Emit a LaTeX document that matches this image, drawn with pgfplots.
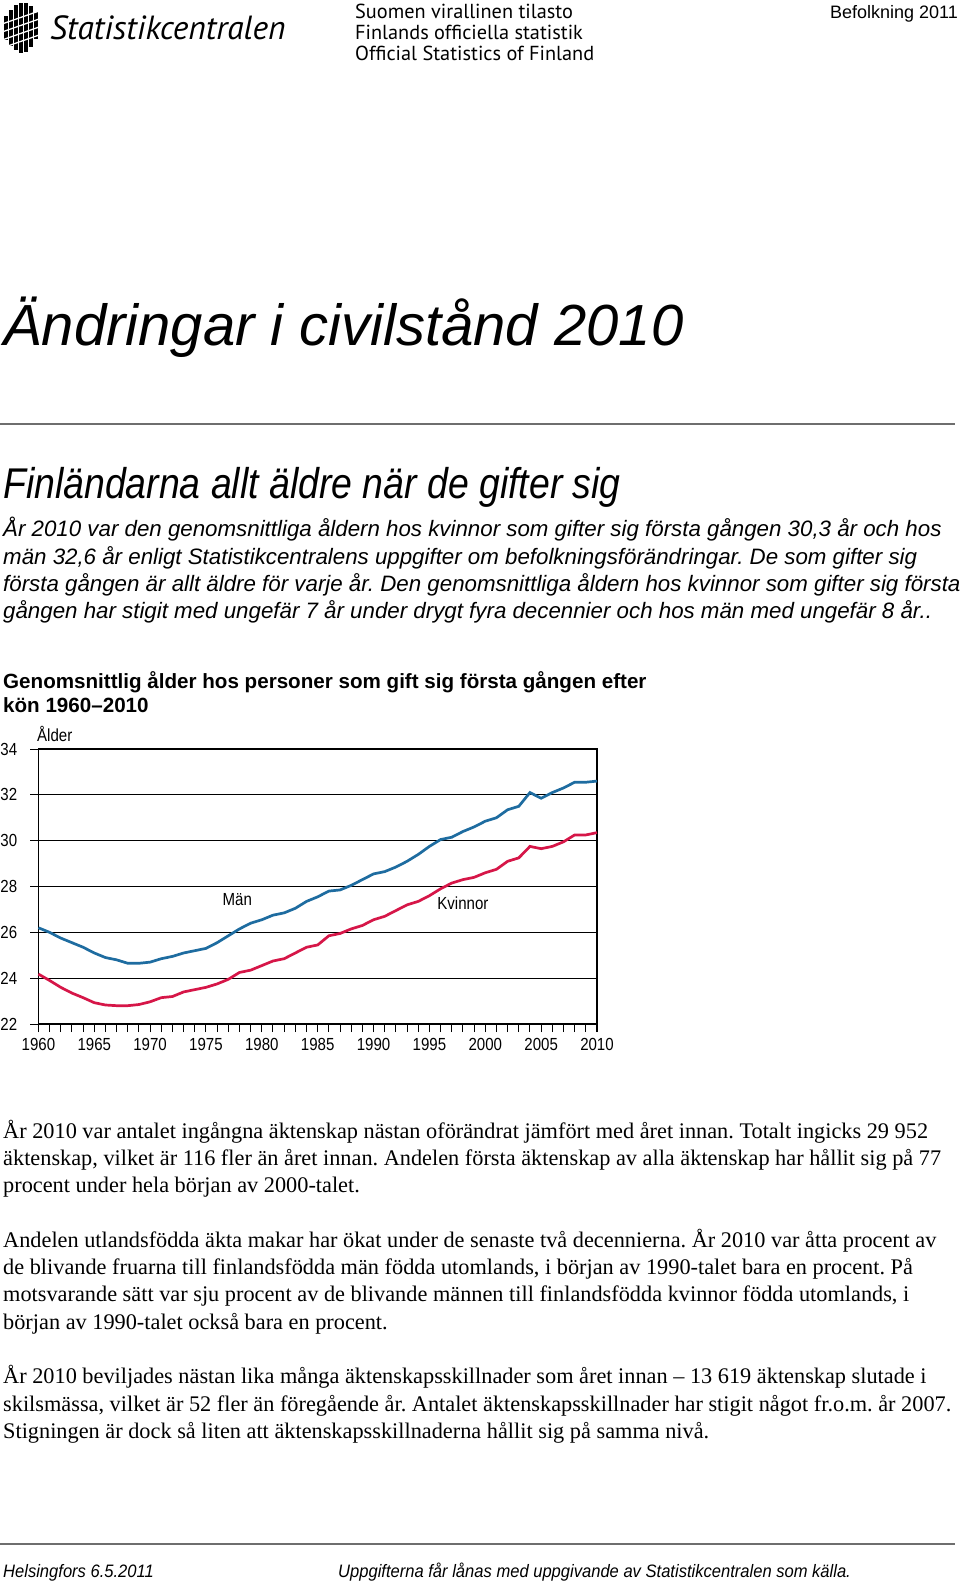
\documentclass[border=0pt]{standalone}
\usepackage{pgfplots}
\pgfplotsset{compat=1.18}
\usepackage{fontspec}
\setmainfont{Liberation Sans}
\newfontfamily\arialN[FakeStretch=0.86]{Liberation Sans}
\newfontfamily\arialM[FakeStretch=0.87]{Liberation Sans}
\newfontfamily\arialF[FakeStretch=0.92]{Liberation Sans}
\newfontfamily\timesf{Liberation Serif}
\newfontfamily\ptsans{PT Sans}
\newcommand\fs[1]{\fontsize{#1}{#1}\selectfont}
\definecolor{manblue}{RGB}{30,108,160}
\definecolor{kvred}{RGB}{214,22,72}
\definecolor{rulegray}{RGB}{110,110,110}

\pgfplotstableread{
year man kv
1960 26.2 24.18
1961 26.0 23.9
1962 25.75 23.6
1963 25.55 23.35
1964 25.35 23.15
1965 25.1 22.93
1966 24.9 22.83
1967 24.8 22.8
1968 24.65 22.8
1969 24.65 22.85
1970 24.7 22.97
1971 24.85 23.15
1972 24.95 23.2
1973 25.1 23.4
1974 25.2 23.5
1975 25.3 23.6
1976 25.55 23.75
1977 25.85 23.95
1978 26.15 24.25
1979 26.4 24.35
1980 26.55 24.55
1981 26.75 24.75
1982 26.85 24.85
1983 27.05 25.1
1984 27.35 25.35
1985 27.55 25.45
1986 27.8 25.85
1987 27.85 25.95
1988 28.05 26.15
1989 28.3 26.3
1990 28.55 26.55
1991 28.65 26.7
1992 28.85 26.95
1993 29.1 27.2
1994 29.4 27.35
1995 29.75 27.6
1996 30.05 27.9
1997 30.15 28.15
1998 30.4 28.3
1999 30.6 28.4
2000 30.85 28.6
2001 31.0 28.75
2002 31.35 29.1
2003 31.5 29.25
2004 32.1 29.75
2005 31.85 29.65
2006 32.1 29.75
2007 32.3 29.95
2008 32.55 30.25
2009 32.55 30.25
2010 32.6 30.35
}\agedata

\begin{document}
\frenchspacing
\begin{tikzpicture}
\useasboundingbox (0pt,0pt) rectangle (960pt,-1585pt);
\fill[white] (0pt,0pt) rectangle (960pt,-1585pt);

% ---- logo
\foreach \bx/\bt/\bb in {4/16/40, 9/10/46, 14/5/50, 19/3/53, 24/3/52, 29/6/47, 34/12/39}{
  \fill[black] ({\bx pt},{-\bt pt}) rectangle ({\bx pt+3.6pt},{-\bb pt});
}
\foreach \dy in {14,22,30,38}{
  \draw[white, line width=1.3pt] (2pt,{-\dy pt-10pt}) -- (42pt,{-\dy pt+4pt});
}
\node[anchor=base west, inner sep=0pt, font=\ptsans\itshape\fs{33.5}] at (50pt,-39pt) {Statistikcentralen};
\node[anchor=base west, inner sep=0pt, font=\ptsans\fs{20.3}] at (355pt,-18pt) {Suomen virallinen tilasto};
\node[anchor=base west, inner sep=0pt, font=\ptsans\fs{20.3}] at (355pt,-39pt) {Finlands officiella statistik};
\node[anchor=base west, inner sep=0pt, font=\ptsans\fs{20.3}] at (355pt,-60pt) {Official Statistics of Finland};
\node[anchor=base east, inner sep=0pt, font=\fs{18}] at (958pt,-18pt) {Befolkning 2011};

% ---- title
\node[anchor=base west, inner sep=0pt, font=\itshape\fs{58}] at (3pt,-345pt) {Ändringar i civilstånd 2010};
\draw[rulegray, line width=1.5pt] (0pt,-424pt) -- (955pt,-424pt);
\node[anchor=base west, inner sep=0pt, font=\arialM\itshape\fs{43}] at (3pt,-498pt) {Finländarna allt äldre när de gifter sig};

\begin{scope}[every node/.style={anchor=base west, inner sep=0pt, font=\itshape\fs{22.3}}]
\node at (3pt,-536pt) {År 2010 var den genomsnittliga åldern hos kvinnor som gifter sig första gången 30,3 år och hos};
\node at (3pt,-564pt) {män 32,6 år enligt Statistikcentralens uppgifter om befolkningsförändringar. De som gifter sig};
\node at (3pt,-591pt) {första gången är allt äldre för varje år. Den genomsnittliga åldern hos kvinnor som gifter sig första};
\node at (3pt,-618pt) {gången har stigit med ungefär 7 år under drygt fyra decennier och hos män med ungefär 8 år..};
\end{scope}

\begin{scope}[every node/.style={anchor=base west, inner sep=0pt, font=\bfseries\fs{20.6}}]
\node at (3pt,-688pt) {Genomsnittlig ålder hos personer som gift sig första gången efter};
\node at (3pt,-712pt) {kön 1960–2010};
\end{scope}

% ---- chart
\node[anchor=base west, inner sep=0pt, font=\arialN\fs{17.5}] at (37pt,-741pt) {Ålder};
\begin{axis}[
  at={(38.4pt,-1024pt)}, anchor=south west,
  scale only axis, width=558.6pt, height=275pt,
  xmin=1960, xmax=2010, ymin=22, ymax=34,
  xtick={1960,1965,...,2010},
  xticklabels={1960,1965,1970,1975,1980,1985,1990,1995,2000,2005,2010},
  minor xtick={1960,...,2010},
  ytick={22,24,...,34},
  yticklabels={22,24,26,28,30,32,34},
  xtick pos=bottom, ytick pos=left,
  tick align=outside,
  major tick length=8pt, minor tick length=8pt,
  ymajorgrids,
  major grid style={black, line width=1.2pt},
  axis line style={black, line width=1.2pt},
  every tick/.style={black, line width=1pt},
  minor tick style={black, line width=1pt},
  xticklabel style={font=\arialN\fs{17.5}, inner sep=1pt, yshift=-5pt},
  yticklabel style={font=\arialN\fs{17.5}, inner sep=1pt, anchor=east, xshift=-12pt},
  clip=false,
]
\addplot[manblue, line width=2.7pt] table[x=year, y=man] {\agedata};
\addplot[kvred, line width=2.7pt] table[x=year, y=kv] {\agedata};
\node[font=\arialN\fs{17.5}] at (axis cs:1977.8,27.45) {Män};
\node[font=\arialN\fs{17.5}] at (axis cs:1998.0,27.28) {Kvinnor};
\end{axis}

% ---- body text
\begin{scope}[every node/.style={anchor=base west, inner sep=0pt, font=\timesf\fs{22.3}}]
\node at (3pt,-1138pt) {År 2010 var antalet ingångna äktenskap nästan oförändrat jämfört med året innan. Totalt ingicks 29 952};
\node at (3pt,-1165pt) {äktenskap, vilket är 116 fler än året innan. Andelen första äktenskap av alla äktenskap har hållit sig på 77};
\node at (3pt,-1192pt) {procent under hela början av 2000-talet.};
\node at (3pt,-1247pt) {Andelen utlandsfödda äkta makar har ökat under de senaste två decennierna. År 2010 var åtta procent av};
\node at (3pt,-1274pt) {de blivande fruarna till finlandsfödda män födda utomlands, i början av 1990-talet bara en procent. På};
\node at (3pt,-1301pt) {motsvarande sätt var sju procent av de blivande männen till finlandsfödda kvinnor födda utomlands, i};
\node at (3pt,-1329pt) {början av 1990-talet också bara en procent.};
\node at (3pt,-1383pt) {År 2010 beviljades nästan lika många äktenskapsskillnader som året innan – 13 619 äktenskap slutade i};
\node at (3pt,-1411pt) {skilsmässa, vilket är 52 fler än föregående år. Antalet äktenskapsskillnader har stigit något fr.o.m. år 2007.};
\node at (3pt,-1438pt) {Stigningen är dock så liten att äktenskapsskillnaderna hållit sig på samma nivå.};
\end{scope}

% ---- footer
\draw[rulegray, line width=2.5pt] (0pt,-1544pt) -- (955pt,-1544pt);
\node[anchor=base west, inner sep=0pt, font=\arialF\itshape\fs{18}] at (3pt,-1577pt) {Helsingfors 6.5.2011};
\node[anchor=base west, inner sep=0pt, font=\arialF\itshape\fs{18}] at (338pt,-1577pt) {Uppgifterna får lånas med uppgivande av Statistikcentralen som källa.};
\end{tikzpicture}
\end{document}
